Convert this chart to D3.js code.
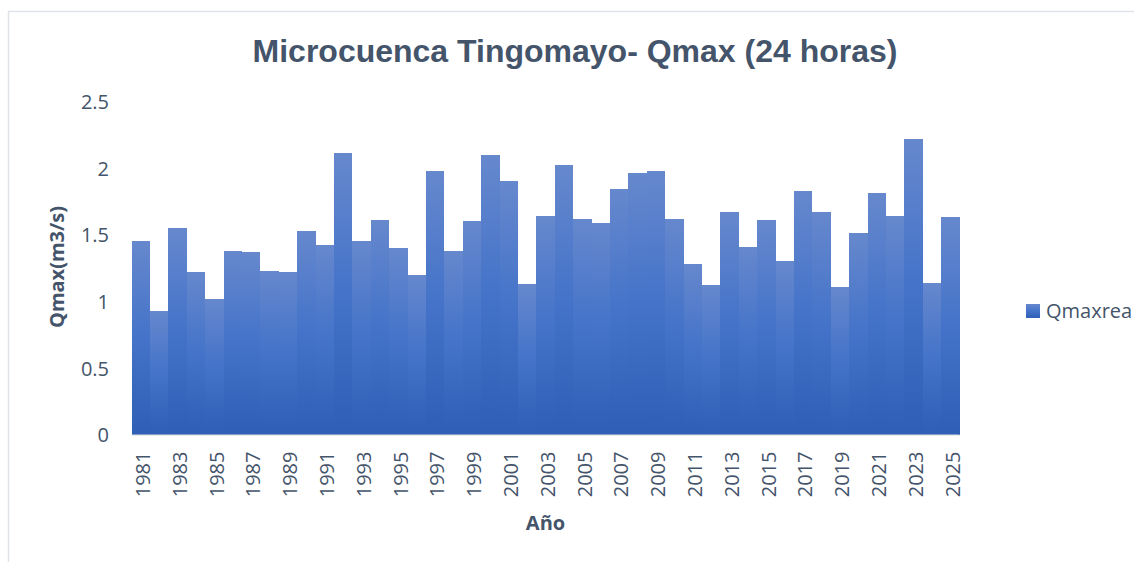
<!DOCTYPE html>
<html>
<head>
<meta charset="utf-8">
<script src="https://cdn.jsdelivr.net/npm/d3@7"></script>
<style>
  html, body { margin: 0; padding: 0; background: #fff; }
  svg { display: block; }
</style>
</head>
<body>
<svg id="chart" width="1134" height="562"></svg>
<script>
const years = ["1981","1982","1983","1984","1985","1986","1987","1988","1989","1990",
  "1991","1992","1993","1994","1995","1996","1997","1998","1999","2000",
  "2001","2002","2003","2004","2005","2006","2007","2008","2009","2010",
  "2011","2012","2013","2014","2015","2016","2017","2018","2019","2020",
  "2021","2022","2023","2024","2025"];
const qmaxrea = [1.45,0.93,1.55,1.22,1.02,1.38,1.37,1.23,1.22,1.53,
  1.42,2.11,1.45,1.61,1.40,1.20,1.98,1.38,1.60,2.10,
  1.90,1.13,1.64,2.02,1.62,1.59,1.84,1.96,1.98,1.62,
  1.28,1.12,1.67,1.41,1.61,1.30,1.83,1.67,1.11,1.51,
  1.81,1.64,2.22,1.14,1.63];
const yTicks = [0, 0.5, 1, 1.5, 2, 2.5];
const xTickLabels = years.filter((d, i) => i % 2 === 0);
const title = "Microcuenca Tingomayo- Qmax (24 horas)";
const yTitle = "Qmax(m3/s)";
const xTitle = "Año";
const seriesName = "Qmaxrea";

const svg = d3.select("#chart");
const textColor = "#44546a";
const tickFont = "'Open Sans', 'Noto Sans', sans-serif";

// outer chart border
svg.append("rect")
  .attr("x", 8.5).attr("y", 11.5)
  .attr("width", 1300).attr("height", 700)
  .attr("fill", "none").attr("stroke", "#dfe3e8").attr("stroke-width", 1.5);

// gradient
const defs = svg.append("defs");
const grad = defs.append("linearGradient").attr("id", "barGrad")
  .attr("x1", 0).attr("y1", 0).attr("x2", 0).attr("y2", 1);
grad.append("stop").attr("offset", "0%").attr("stop-color", "#6688cd");
grad.append("stop").attr("offset", "50%").attr("stop-color", "#4473c9");
grad.append("stop").attr("offset", "100%").attr("stop-color", "#2e5eb5");

const plot = { left: 131.5, right: 959.5, top: 101.5, bottom: 434.5 };

const x = d3.scaleBand().domain(years).range([plot.left, plot.right]).padding(0);
const y = d3.scaleLinear().domain([0, 2.5]).range([plot.bottom, plot.top]);

// bars
svg.append("g").selectAll("rect")
  .data(years.map((yr, i) => ({ yr, v: qmaxrea[i] })))
  .join("rect")
  .attr("x", d => x(d.yr))
  .attr("y", d => y(d.v))
  .attr("width", x.bandwidth())
  .attr("height", d => y(0) - y(d.v))
  .attr("fill", "url(#barGrad)")
  .attr("shape-rendering", "crispEdges");

// x axis line
svg.append("line")
  .attr("x1", plot.left).attr("x2", plot.right)
  .attr("y1", plot.bottom + 0.5).attr("y2", plot.bottom + 0.5)
  .attr("stroke", "#d9d9d9").attr("stroke-width", 1.2);

// y axis
const yAxis = d3.axisLeft(y).tickValues(yTicks).tickSize(0).tickPadding(0)
  .tickFormat(d => String(d));
const gy = svg.append("g").attr("transform", `translate(109,0)`).call(yAxis);
gy.select(".domain").remove();
gy.selectAll("text")
  .attr("fill", textColor)
  .style("font-family", tickFont)
  .style("font-size", "20px")
  .attr("dy", "0.36em");

// x axis
const xAxis = d3.axisBottom(x).tickValues(xTickLabels).tickSize(0).tickPadding(0);
const gx = svg.append("g").attr("transform", `translate(0,${plot.bottom})`).call(xAxis);
gx.select(".domain").remove();
gx.selectAll("text")
  .attr("fill", textColor)
  .style("font-family", tickFont)
  .style("font-size", "20px")
  .attr("text-anchor", "end")
  .attr("transform", "rotate(-90)")
  .attr("x", -17)
  .attr("y", 2)
  .attr("dy", "0.36em");

// title
svg.append("text")
  .attr("x", 575).attr("y", 62)
  .attr("text-anchor", "middle")
  .attr("fill", textColor)
  .style("font-family", "'Liberation Sans', Arial, sans-serif")
  .style("font-weight", "bold")
  .style("font-size", "32px")
  .text(title);

// y title
svg.append("text")
  .attr("transform", `translate(64,267) rotate(-90)`)
  .attr("text-anchor", "middle")
  .attr("fill", textColor)
  .style("font-family", tickFont)
  .style("font-weight", "bold")
  .style("font-size", "20px")
  .text(yTitle);

// x title
svg.append("text")
  .attr("x", (plot.left + plot.right) / 2).attr("y", 530)
  .attr("text-anchor", "middle")
  .attr("fill", textColor)
  .style("font-family", tickFont)
  .style("font-weight", "bold")
  .style("font-size", "20px")
  .text(xTitle);

// legend
const lg = svg.append("g");
lg.append("rect")
  .attr("x", 1026).attr("y", 304).attr("width", 14).attr("height", 14)
  .attr("fill", "url(#barGrad)");
lg.append("text")
  .attr("x", 1046).attr("y", 318)
  .attr("fill", textColor)
  .style("font-family", tickFont)
  .style("font-size", "20px")
  .text(seriesName);
</script>
</body>
</html>
